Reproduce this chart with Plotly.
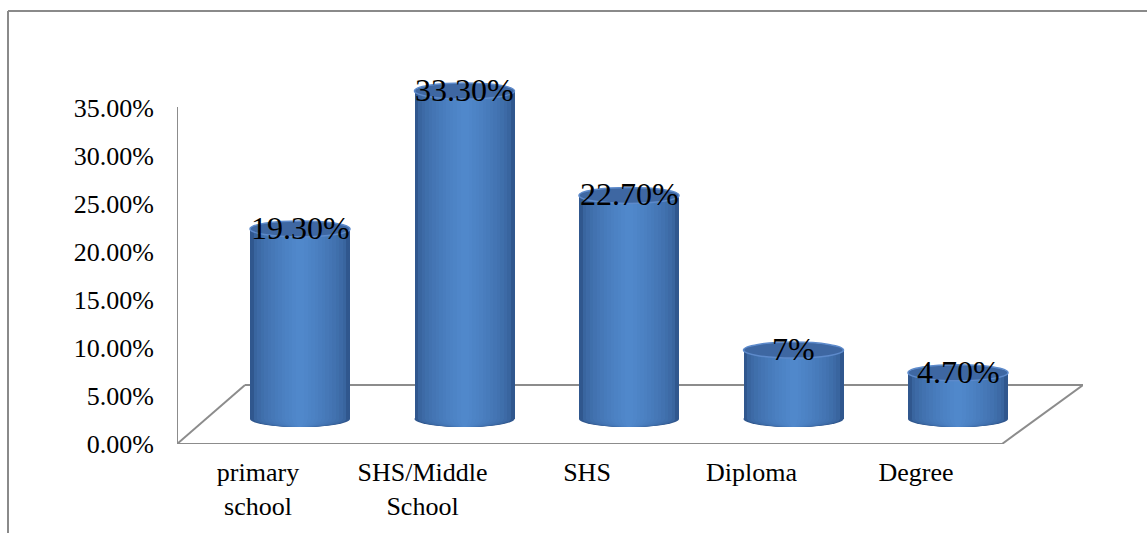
import plotly.graph_objects as go

# ---- data ----
categories = ["primary school", "SHS/Middle School", "SHS", "Diploma", "Degree"]
tick_text = ["primary<br>school", "SHS/Middle<br>School", "SHS", "Diploma", "Degree"]
values = [19.3, 33.3, 22.7, 7, 4.7]
value_labels = ["19.30%", "33.30%", "22.70%", "7%", "4.70%"]
y_ticks = [0, 5, 10, 15, 20, 25, 30, 35]

# ---- geometry (pixels) ----
W, H = 1147, 533
PL, PR, PT, PB = 177, 64, 0, 89          # plot area 177..1083, 0..444
plot_w = W - PL - PR
plot_h = H - PT - PB
x0_px, step_px = 300.0, 164.5            # first bar centre, spacing
y_scale = 336.0 / 35                      # tick axis px per %
bar_scale = 9.85                          # bar axis px per %
base_px = 25.0                            # bar base above floor front edge


def px_to_x(px):
    return (px - x0_px) / step_px


x_lo, x_hi = px_to_x(PL), px_to_x(W - PR)
y_range = [0, plot_h / y_scale]
y2_range = [-base_px / bar_scale, (plot_h - base_px) / bar_scale]

xs = list(range(len(categories)))
bar_w = 100.0 / step_px
ell_h = 8.0 / bar_scale
label_shift = -42.0 / step_px

serif = "Liberation Serif, Times New Roman, serif"


def mix(c1, c2, t):
    a = [int(c1[i:i + 2], 16) for i in (1, 3, 5)]
    b = [int(c2[i:i + 2], 16) for i in (1, 3, 5)]
    return "#" + "".join(f"{round(p + (q - p) * t):02x}" for p, q in zip(a, b))


n_layers = 14
layers = []
for k in range(n_layers):
    frac = 1.0 - k * (0.92 / (n_layers - 1))
    t = (k / (n_layers - 1)) ** 0.5
    layers.append((frac, mix("#30578e", "#5088cb", t)))

fig = go.Figure()
for frac, col in layers:
    fig.add_trace(go.Bar(
        x=xs, y=values, base=0, width=bar_w * frac,
        marker=dict(color=col, line=dict(width=0)),
        yaxis="y2", hoverinfo="skip", showlegend=False,
    ))

shapes = []
# floor (3D base) and value-axis line
back_y = (444 - 385) / y_scale
floor_col = "#8c8c8c"
floor_pts = [
    ((px_to_x(177), 0), (px_to_x(1002), 0)),
    ((px_to_x(245), back_y), (px_to_x(1083), back_y)),
    ((px_to_x(177), 0), (px_to_x(245), back_y)),
    ((px_to_x(1002), 0), (px_to_x(1083), back_y)),
    ((px_to_x(177), 0), (px_to_x(177), (444 - 107) / y_scale)),
]
for (a, b) in floor_pts:
    shapes.append(dict(type="line", xref="x", yref="y", x0=a[0], y0=a[1],
                       x1=b[0], y1=b[1], layer="below",
                       line=dict(color=floor_col, width=2)))

# bottom & top ellipses of cylinders
for x, v in zip(xs, values):
    for frac, col in layers:
        shapes.append(dict(type="circle", xref="x", yref="y2",
                           x0=x - bar_w * frac / 2, x1=x + bar_w * frac / 2,
                           y0=-ell_h, y1=ell_h, layer="below",
                           fillcolor=col, line=dict(width=0)))
    shapes.append(dict(type="circle", xref="x", yref="y2",
                       x0=x - bar_w / 2, x1=x + bar_w / 2,
                       y0=v - ell_h, y1=v + ell_h, layer="above",
                       fillcolor="#3e67a2", line=dict(color="#5d8acb", width=1.5)))

# outer frame (clipped chart border)
fx = (8 - PL) / plot_w
fy = (plot_h - 11) / plot_h
shapes.append(dict(type="line", xref="paper", yref="paper", x0=fx, y0=fy,
                   x1=1.2, y1=fy, line=dict(color="#8a8a8a", width=2)))
shapes.append(dict(type="line", xref="paper", yref="paper", x0=fx, y0=fy,
                   x1=fx, y1=-0.3, line=dict(color="#8a8a8a", width=2)))

annotations = []
for x, v, t in zip(xs, values, value_labels):
    annotations.append(dict(x=x, y=v, xref="x", yref="y2", text=t,
                            showarrow=False, yshift=1,
                            font=dict(family=serif, size=32, color="black")))

fig.update_layout(
    width=W, height=H, autosize=False,
    margin=dict(l=PL, r=PR, t=PT, b=PB, pad=0),
    paper_bgcolor="white", plot_bgcolor="white",
    barmode="overlay", bargap=0,
    shapes=shapes, annotations=annotations,
    xaxis=dict(range=[x_lo, x_hi], tickvals=[x + label_shift for x in xs],
               ticktext=tick_text, showgrid=False, zeroline=False,
               showline=False, ticks="", ticklabelstandoff=10,
               tickfont=dict(family=serif, size=26, color="black")),
    yaxis=dict(range=y_range, tickvals=y_ticks,
               ticktext=[f"{t:.2f}%" for t in y_ticks],
               showgrid=False, zeroline=False, showline=False, ticks="",
               ticklabelstandoff=22,
               tickfont=dict(family=serif, size=26, color="black")),
    yaxis2=dict(range=y2_range, overlaying="y", visible=False),
    showlegend=False,
)

fig.write_html("out.html",
               config={"displayModeBar": False},
               post_script="document.body.style.margin='0px';"
                           "document.body.style.overflow='hidden';")
